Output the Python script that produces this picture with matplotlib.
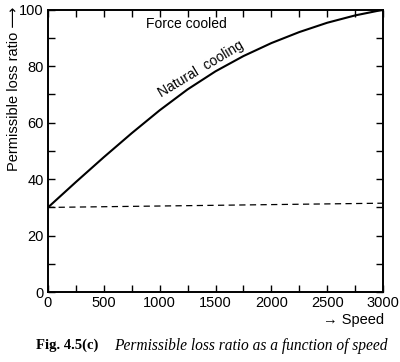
import matplotlib
matplotlib.use("Agg")
import matplotlib.pyplot as plt
from matplotlib.ticker import MultipleLocator

# Data
speed = [0, 250, 500, 750, 1000, 1250, 1500, 1750, 2000, 2250, 2500, 2750, 3000]
natural_cooling = [30, 39, 47.8, 56.3, 64.4, 71.8, 78.2, 83.6, 88.2, 92.1, 95.4, 98.0, 100]
dashed_speed = [0, 3000]
dashed_loss = [30, 31.5]
x_ticks = [0, 500, 1000, 1500, 2000, 2500, 3000]
y_ticks = [0, 20, 40, 60, 80, 100]

plt.rcParams['font.family'] = ['Liberation Sans', 'DejaVu Sans']

fig = plt.figure(figsize=(4.0, 3.62), dpi=100)
ax = fig.add_axes([0.12, 0.193, 0.8375, 0.78])

ax.plot(speed, natural_cooling, color='black', lw=1.5, solid_capstyle='round',
        solid_joinstyle='round')
ax.plot(dashed_speed, dashed_loss, color='black', lw=0.9, ls=(0, (5, 3.5)))

ax.set_xlim(0, 3000)
ax.set_ylim(0, 100)
ax.set_xticks(x_ticks)
ax.set_yticks(y_ticks)
ax.xaxis.set_minor_locator(MultipleLocator(250))
ax.yaxis.set_minor_locator(MultipleLocator(10))
ax.tick_params(which='both', direction='in', top=True, right=True,
               labeltop=False, labelright=False, width=1.0)
ax.tick_params(which='major', length=5, labelsize=10.5, pad=3)
ax.tick_params(which='minor', length=5)
for s in ax.spines.values():
    s.set_linewidth(1.4)

ax.text(1235, 95, 'Force cooled', fontsize=10, ha='center', va='center')
ax.text(1370, 79, 'Natural  cooling', fontsize=10, ha='center', va='center',
        rotation=31, rotation_mode='anchor')

fig.text(0.035, 0.755, 'Permissible loss ratio \u27f6', rotation=90,
         fontsize=10.5, ha='center', va='center')
fig.text(0.96, 0.115, '\u2192 Speed', fontsize=10.5, ha='right', va='center')

fig.text(0.09, 0.045, 'Fig. 4.5(c)', fontsize=10.5, fontweight='bold',
         family=['Liberation Serif', 'DejaVu Serif'], ha='left', va='center')
fig.text(0.285, 0.045, 'Permissible loss ratio as a function of speed',
         fontsize=11.2, style='italic',
         family=['Liberation Serif', 'DejaVu Serif'], ha='left', va='center')

fig.savefig('out.png', dpi=100)
